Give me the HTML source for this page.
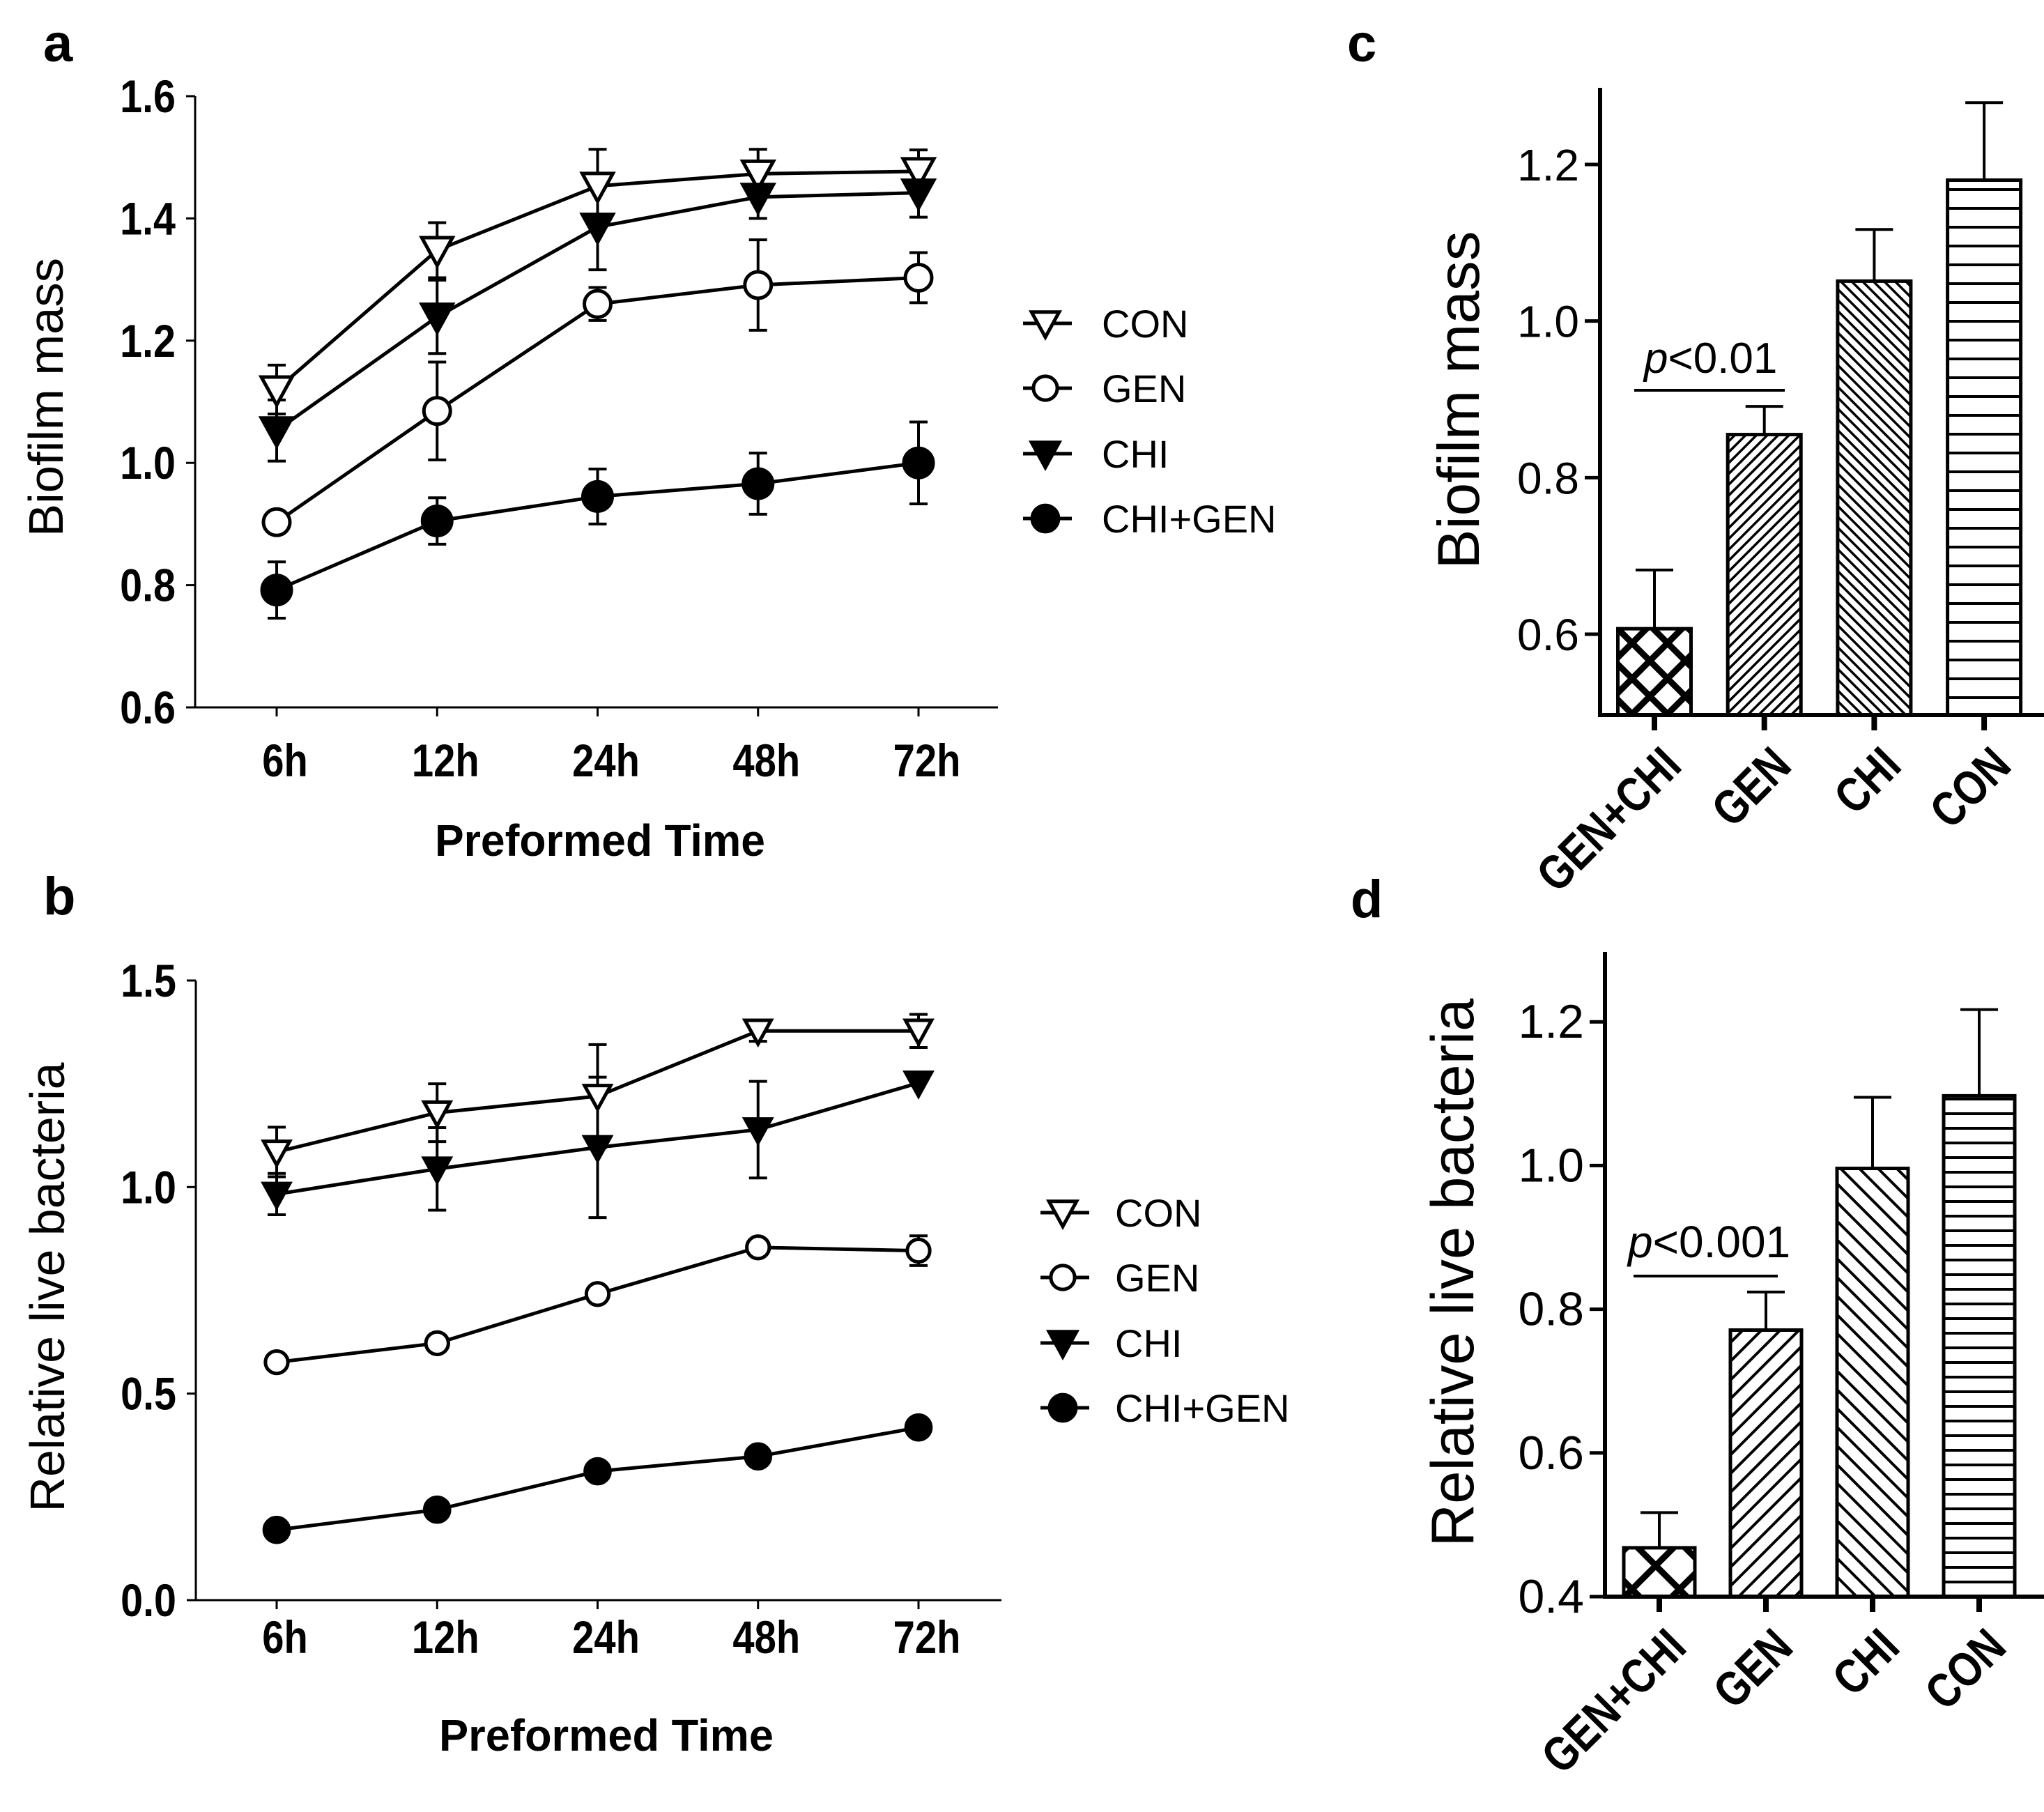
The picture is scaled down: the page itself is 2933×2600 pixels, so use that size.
<!DOCTYPE html>
<html><head><meta charset="utf-8"><style>
html,body{margin:0;padding:0;background:#fff}
svg{display:block}
.bn{font-family:"Liberation Sans",sans-serif;font-weight:bold}
.rg{font-family:"Liberation Sans",sans-serif}
</style></head><body>
<svg id="fig" width="2933" height="2600" viewBox="0 0 2933 2600" xmlns="http://www.w3.org/2000/svg">
<defs>
<pattern id="pc-cg" width="36" height="36" patternUnits="userSpaceOnUse" patternTransform="rotate(45)"><rect width="36" height="36" fill="#fff"/><rect x="0" y="0" width="36" height="9" fill="#000"/><rect x="0" y="0" width="9" height="36" fill="#000"/></pattern>
<pattern id="pc-gen" width="11" height="11" patternUnits="userSpaceOnUse" patternTransform="rotate(-45)"><rect width="11" height="11" fill="#fff"/><rect width="11" height="3.5" fill="#000"/></pattern>
<pattern id="pc-chi" width="11" height="11" patternUnits="userSpaceOnUse" patternTransform="rotate(45)"><rect width="11" height="11" fill="#fff"/><rect width="11" height="3.5" fill="#000"/></pattern>
<pattern id="pc-con" width="27" height="27" patternUnits="userSpaceOnUse"><rect width="27" height="27" fill="#fff"/><rect width="27" height="4" fill="#000"/></pattern>
<pattern id="pd-cg" width="48" height="48" patternUnits="userSpaceOnUse" patternTransform="rotate(45)"><rect width="48" height="48" fill="#fff"/><rect width="48" height="9" fill="#000"/><rect width="9" height="48" fill="#000"/></pattern>
<pattern id="pd-gen" width="19" height="19" patternUnits="userSpaceOnUse" patternTransform="rotate(-45)"><rect width="19" height="19" fill="#fff"/><rect width="19" height="4" fill="#000"/></pattern>
<pattern id="pd-chi" width="19" height="19" patternUnits="userSpaceOnUse" patternTransform="rotate(45)"><rect width="19" height="19" fill="#fff"/><rect width="19" height="4" fill="#000"/></pattern>
<pattern id="pd-con" width="21" height="21" patternUnits="userSpaceOnUse"><rect width="21" height="21" fill="#fff"/><rect width="21" height="4" fill="#000"/></pattern>
</defs>
<text x="62" y="88" class="rg" font-weight="bold" font-size="76">a</text>
<text x="1933" y="88" class="rg" font-weight="bold" font-size="76">c</text>
<text x="62" y="1312" class="rg" font-weight="bold" font-size="76">b</text>
<text x="1938" y="1316" class="rg" font-weight="bold" font-size="76">d</text>
<text transform="translate(90,570) rotate(-90)" text-anchor="middle" class="rg" font-size="70" textLength="400" lengthAdjust="spacingAndGlyphs">Biofilm mass</text>
<text x="861" y="1228" text-anchor="middle" class="bn" font-size="64" textLength="474" lengthAdjust="spacingAndGlyphs">Preformed Time</text>
<text transform="translate(92,1847) rotate(-90)" text-anchor="middle" class="rg" font-size="70" textLength="645" lengthAdjust="spacingAndGlyphs">Relative live bacteria</text>
<text x="870" y="2512" text-anchor="middle" class="bn" font-size="64" textLength="480" lengthAdjust="spacingAndGlyphs">Preformed Time</text>
<text transform="translate(2122,574) rotate(-90)" text-anchor="middle" class="rg" font-size="84" textLength="485" lengthAdjust="spacingAndGlyphs">Biofilm mass</text>
<text transform="translate(2114,1826) rotate(-90)" text-anchor="middle" class="rg" font-size="86" textLength="787" lengthAdjust="spacingAndGlyphs">Relative live bacteria</text>
<g id="layer"></g>
</svg>
<script>
// ---- Panel a data ----
const timeCats = ['6h','12h','24h','48h','72h'];
const aTicks = [0.6,0.8,1.0,1.2,1.4,1.6];
const aCON = [1.12,1.348,1.453,1.473,1.477];
const aCONerr = [0.04,0.045,0.06,0.04,0.035];
const aCHI = [1.053,1.239,1.386,1.435,1.442];
const aCHIerr = [0.05,0.06,0.07,0.035,0.04];
const aGEN = [0.903,1.085,1.26,1.291,1.303];
const aGENerr = [0,0.08,0.027,0.074,0.041];
const aCG = [0.792,0.905,0.945,0.966,1.0];
const aCGerr = [0.046,0.038,0.045,0.05,0.067];
// ---- Panel b data ----
const bTicks = [0.0,0.5,1.0,1.5];
const bCON = [1.085,1.18,1.22,1.378,1.378];
const bCONerr = [0.06,0.07,0.125,0.025,0.04];
const bCHI = [0.983,1.044,1.096,1.139,1.252];
const bCHIerr = [0.05,0.1,0.17,0.117,0];
const bGEN = [0.576,0.622,0.741,0.854,0.846];
const bGENerr = [0,0,0,0,0.036];
const bCG = [0.17,0.219,0.312,0.348,0.418];
const bCGerr = [0,0,0,0,0];
// ---- Panel c / d data ----
const barCats = ['GEN+CHI','GEN','CHI','CON'];
const cTicks = [0.6,0.8,1.0,1.2];
const cVals = [0.607,0.855,1.051,1.18];
const cErr = [0.075,0.036,0.066,0.099];
const dTicks = [0.4,0.6,0.8,1.0,1.2];
const dVals = [0.468,0.771,0.996,1.097];
const dErr = [0.049,0.053,0.099,0.12];

const NS='http://www.w3.org/2000/svg';
const layer=document.getElementById('layer');
function mk(tag,attrs,parent){const e=document.createElementNS(NS,tag);for(const k in attrs)e.setAttribute(k,attrs[k]);(parent||layer).appendChild(e);return e;}
function fmt(v,d){return v.toFixed(d);}

function marker(g,type,x,y,sc){
  sc=sc||1;
  let e;
  if(type==='tri-open'||type==='tri-fill'){
    e=mk('polygon',{points:(x-22*sc)+','+(y-18*sc)+' '+(x+22*sc)+','+(y-18*sc)+' '+x+','+(y+22*sc),fill:type==='tri-fill'?'#000':'#fff',stroke:'#000','stroke-width':5,'stroke-linejoin':'miter'},g);
  } else {
    e=mk('circle',{cx:x,cy:y,r:(type==='circ-fill'?21:19)*sc,fill:type==='circ-fill'?'#000':'#fff',stroke:'#000','stroke-width':5},g);
  }
  return e;
}

function linePanel(p){
  const xS=i=>p.x0+i*p.dx;
  const yS=v=>p.yBase-(v-p.vBase)*p.k;
  const g=mk('g',{});
  
  
  const ya=mk('line',{x1:p.ax,y1:yS(p.ticks[p.ticks.length-1]),x2:p.ax,y2:yS(p.vBase),stroke:'#000','stroke-width':3},g);
  
  
  const xa=mk('line',{x1:p.ax,y1:yS(p.vBase),x2:p.axEnd,y2:yS(p.vBase),stroke:'#000','stroke-width':3},g);
  
  
  p.ticks.forEach(t=>{
    mk('line',{x1:p.ax-13,y1:yS(t),x2:p.ax,y2:yS(t),stroke:'#000','stroke-width':3},g);
    const tl=mk('text',{transform:'translate('+(p.ax-28)+','+(yS(t)+23)+') scale(0.87,1)','text-anchor':'end','font-size':66,class:'bn'},g);
    tl.textContent=fmt(t,1);
    
    
  });
  timeCats.forEach((c,i)=>{
    mk('line',{x1:xS(i),y1:yS(p.vBase),x2:xS(i),y2:yS(p.vBase)+13,stroke:'#000','stroke-width':3},g);
    const tl=mk('text',{transform:'translate('+(xS(i)+12)+','+p.catY+') scale(0.85,1)','text-anchor':'middle','font-size':66,class:'bn'},g);
    tl.textContent=c;
    
    
  });
  p.series.forEach(s=>{
    s.vals.forEach((v,i)=>{
      const e=s.err[i]; if(!e) return;
      const eg=mk('g',{stroke:'#000','stroke-width':4},g);
      
      
      mk('line',{x1:xS(i),y1:yS(v+e),x2:xS(i),y2:yS(v-e)},eg);
      mk('line',{x1:xS(i)-13,y1:yS(v+e),x2:xS(i)+13,y2:yS(v+e)},eg);
      mk('line',{x1:xS(i)-13,y1:yS(v-e),x2:xS(i)+13,y2:yS(v-e)},eg);
    });
  });
  p.series.forEach(s=>{
    const pl=mk('polyline',{points:s.vals.map((v,i)=>xS(i)+','+yS(v)).join(' '),fill:'none',stroke:'#000','stroke-width':5},g);
    
    
  });
  p.series.forEach(s=>{
    s.vals.forEach((v,i)=>{
      const m=marker(g,s.type,xS(i),yS(v),p.msc);
      
      
    });
  });
  p.series.forEach((s,j)=>{
    const ly=p.legY[j];
    const lg=mk('g',{},g);
    
    
    mk('line',{x1:p.legX-32,y1:ly,x2:p.legX+38,y2:ly,stroke:'#000','stroke-width':5},lg);
    marker(lg,s.type,p.legX,ly,0.9);
    const t=mk('text',{x:p.legTX,y:ly+20,'font-size':56,class:'rg'},lg);
    t.textContent=s.label;
  });
}

function mkSeries(con,conE,chi,chiE,gen,genE,cg,cgE){
  return [
    {key:'con',label:'CON',type:'tri-open',vals:con,err:conE},
    {key:'gen',label:'GEN',type:'circ-open',vals:gen,err:genE},
    {key:'chi',label:'CHI',type:'tri-fill',vals:chi,err:chiE},
    {key:'chi-gen',label:'CHI+GEN',type:'circ-fill',vals:cg,err:cgE}
  ];
}
linePanel({name:'a',x0:397,dx:230.25,yBase:1015,vBase:0.6,k:877,ax:280,axEnd:1432,ticks:aTicks,catY:1114,msc:1,
  series:mkSeries(aCON,aCONerr,aCHI,aCHIerr,aGEN,aGENerr,aCG,aCGerr),legX:1500,legTX:1581,legY:[464,557,651,744]});
linePanel({name:'b',x0:397,dx:230.25,yBase:2296,vBase:0,k:592.7,ax:281,axEnd:1437,ticks:bTicks,catY:2372,msc:0.85,
  series:mkSeries(bCON,bCONerr,bCHI,bCHIerr,bGEN,bGENerr,bCG,bCGerr),legX:1525,legTX:1600,legY:[1740,1833,1927,2020]});

function barPanel(p){
  const xS=i=>p.x0+i*p.dx;
  const yS=v=>p.yRef-(v-p.vRef)*p.k;
  const g=mk('g',{});
  
  
  p.vals.forEach((v,i)=>{
    const b=mk('rect',{x:xS(i)-p.w/2,y:yS(v),width:p.w,height:p.axY-yS(v),fill:'url(#'+p.pat[i]+')',stroke:'#000','stroke-width':5},g);
    
    
    const eg=mk('g',{stroke:'#000','stroke-width':4},g);
    
    
    mk('line',{x1:xS(i),y1:yS(v),x2:xS(i),y2:yS(v+p.err[i])},eg);
    mk('line',{x1:xS(i)-27,y1:yS(v+p.err[i]),x2:xS(i)+27,y2:yS(v+p.err[i])},eg);
  });
  const ya=mk('line',{x1:p.ax,y1:p.axTop,x2:p.ax,y2:p.axY+3,stroke:'#000','stroke-width':6},g);
  
  
  const xa=mk('line',{x1:p.ax-3,y1:p.axY,x2:2933,y2:p.axY,stroke:'#000','stroke-width':6},g);
  
  
  p.ticks.forEach(t=>{
    mk('line',{x1:p.ax-22,y1:yS(t),x2:p.ax,y2:yS(t),stroke:'#000','stroke-width':5},g);
    const tl=mk('text',{x:p.ax-30,y:yS(t)+23,'text-anchor':'end','font-size':p.tickFs,class:'rg'},g);
    tl.textContent=fmt(t,1);
    
    
  });
  barCats.forEach((c,i)=>{
    mk('line',{x1:xS(i),y1:p.axY,x2:xS(i),y2:p.axY+22,stroke:'#000','stroke-width':8},g);
    const tx=xS(i)+42, ty=p.axY+76;
    const tl=mk('text',{transform:'translate('+tx+','+ty+') rotate(-45) scale(0.82,1)','text-anchor':'end','font-size':70,class:'bn'},g);
    tl.textContent=c;
    
    
  });
  const sl=mk('line',{x1:p.sig[0],y1:p.sig[2],x2:p.sig[1],y2:p.sig[2],stroke:'#000','stroke-width':4},g);
  
  
  const st=mk('text',{x:p.sigTX,y:p.sigTY,'font-size':p.sigFs,class:'rg'},g);
  
  
  const ts=mk('tspan',{'font-style':'italic'},st); ts.textContent='p';
  const ts2=mk('tspan',{},st); ts2.textContent=p.sigText;
}
barPanel({name:'c',x0:2374,dx:157.7,w:105,yRef:910,vRef:0.6,k:1123.3,axY:1026,axTop:126,ax:2296,ticks:cTicks,tickFs:64,
  vals:cVals,err:cErr,pat:['pc-cg','pc-gen','pc-chi','pc-con'],sig:[2345,2561,560],sigTX:2359,sigTY:535,sigFs:62,sigText:'<0.01'});
barPanel({name:'d',x0:2381,dx:153,w:102,yRef:2291,vRef:0.4,k:1031,axY:2291,axTop:1366,ax:2303,ticks:dTicks,tickFs:68,
  vals:dVals,err:dErr,pat:['pd-cg','pd-gen','pd-chi','pd-con'],sig:[2344,2551,1831],sigTX:2336,sigTY:1804,sigFs:64,sigText:'<0.001'});
</script>
</body></html>
